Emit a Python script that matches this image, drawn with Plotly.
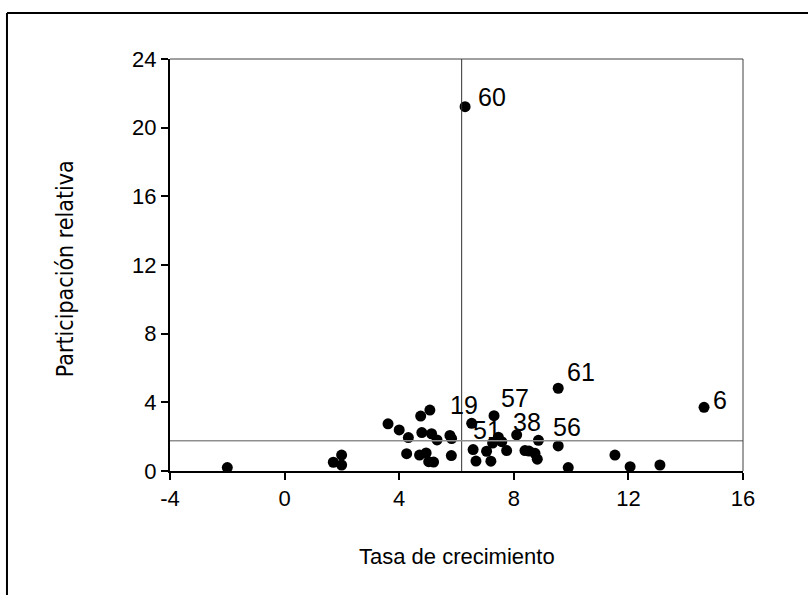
import plotly.graph_objects as go

# Data
tasa = [-2.00, 1.70, 1.99, 1.99, 3.61, 4.00, 4.32, 4.75, 5.07, 4.79, 5.13, 5.32, 5.77, 5.83,
        4.26, 4.71, 4.94, 5.03, 5.20, 5.82, 6.30, 6.53, 6.58, 6.68, 7.05, 7.20, 7.26, 7.46,
        7.58, 7.75, 7.31, 8.10, 8.39, 8.53, 8.74, 8.82, 8.86, 9.55, 9.90, 9.55, 11.53, 12.06,
        13.10, 14.64]
participacion = [0.20, 0.51, 0.93, 0.35, 2.75, 2.39, 1.95, 3.20, 3.55, 2.24, 2.17, 1.81, 2.07, 1.89,
                 1.01, 0.93, 1.05, 0.54, 0.52, 0.90, 21.22, 2.78, 1.25, 0.58, 1.15, 0.57, 1.63, 1.97,
                 1.71, 1.19, 3.22, 2.11, 1.19, 1.16, 1.03, 0.69, 1.79, 1.46, 0.20, 4.82, 0.93, 0.25,
                 0.35, 3.71]

# labelled observations: label text and index of the point
label_text = ["60", "61", "6", "57", "19", "51", "38", "56"]
label_idx = [20, 39, 43, 30, 8, 22, 31, 37]

# reference lines (means)
mean_x = 6.18
mean_y = 1.76

x_ticks = [-4, 0, 4, 8, 12, 16]
y_ticks = [0, 4, 8, 12, 16, 20, 24]

x_title = "Tasa de crecimiento"
y_title = "Participación relativa"

# label offsets in pixels (style)
label_shift = {"60": (27, 10), "61": (23, 16), "6": (16, 7), "57": (21, 18),
               "19": (34, 5), "51": (14, 20), "38": (10, 13), "56": (9, 19)}

FONT = "Liberation Sans, Arial, sans-serif"

fig = go.Figure()
fig.add_trace(go.Scatter(
    x=tasa, y=participacion, mode="markers",
    marker=dict(color="black", size=11, line=dict(width=0)),
    showlegend=False, hoverinfo="x+y"))

# reference lines
fig.add_shape(type="line", xref="x", yref="paper", x0=mean_x, x1=mean_x, y0=0, y1=1,
              line=dict(color="#303030", width=1))
fig.add_shape(type="line", xref="paper", yref="y", x0=0, x1=1, y0=mean_y, y1=mean_y,
              line=dict(color="#8f8f8f", width=1.5))

# top and right borders of the plot box
fig.add_shape(type="line", xref="paper", yref="paper", x0=0, x1=1, y0=1, y1=1,
              line=dict(color="#404040", width=1))
fig.add_shape(type="line", xref="paper", yref="paper", x0=1, x1=1, y0=0, y1=1,
              line=dict(color="#404040", width=1))

# outer frame (top and left edges)
fig.add_shape(type="line", xref="paper", yref="paper", x0=-0.2845, x1=1.2, y0=1.1117, y1=1.1117,
              line=dict(color="black", width=2))
fig.add_shape(type="line", xref="paper", yref="paper", x0=-0.2845, x1=-0.2845, y0=-0.4, y1=1.1117,
              line=dict(color="black", width=2))

for t, i in zip(label_text, label_idx):
    dx, dy = label_shift[t]
    fig.add_annotation(x=tasa[i], y=participacion[i], text=t, showarrow=False,
                       xshift=dx, yshift=dy, xanchor="center", yanchor="middle",
                       font=dict(family=FONT, size=25, color="black"))

# axis titles
fig.add_annotation(xref="paper", yref="paper", x=0.5, y=-0.2087, text=x_title, showarrow=False,
                   xanchor="center", yanchor="middle", font=dict(family=FONT, size=22, color="black"))
fig.add_annotation(xref="paper", yref="paper", x=-0.1832, y=0.49, text=y_title, showarrow=False,
                   textangle=-90, xanchor="center", yanchor="middle",
                   font=dict(family="DejaVu Sans Condensed, Liberation Sans Narrow, " + FONT,
                             size=23, color="black"))

fig.update_layout(
    width=808, height=595,
    margin=dict(l=170, r=65, t=59, b=124),
    paper_bgcolor="white", plot_bgcolor="white",
    font=dict(family=FONT, size=22, color="black"),
    xaxis=dict(range=[-4, 16], tickvals=x_ticks, ticktext=[str(v) for v in x_ticks],
               showgrid=False, zeroline=False, showline=True, linecolor="black", linewidth=2,
               ticks="outside", ticklen=7, tickwidth=1.5, tickcolor="black",
               tickfont=dict(family=FONT, size=22), automargin=False),
    yaxis=dict(range=[0, 24], tickvals=y_ticks, ticktext=[str(v) for v in y_ticks],
               showgrid=False, zeroline=False, showline=True, linecolor="black", linewidth=2,
               ticks="outside", ticklen=7, tickwidth=1.5, tickcolor="black",
               tickfont=dict(family=FONT, size=22), automargin=False),
)

fig.write_html("out.html", config={"displayModeBar": False},
               post_script="document.body.style.margin='0';")
